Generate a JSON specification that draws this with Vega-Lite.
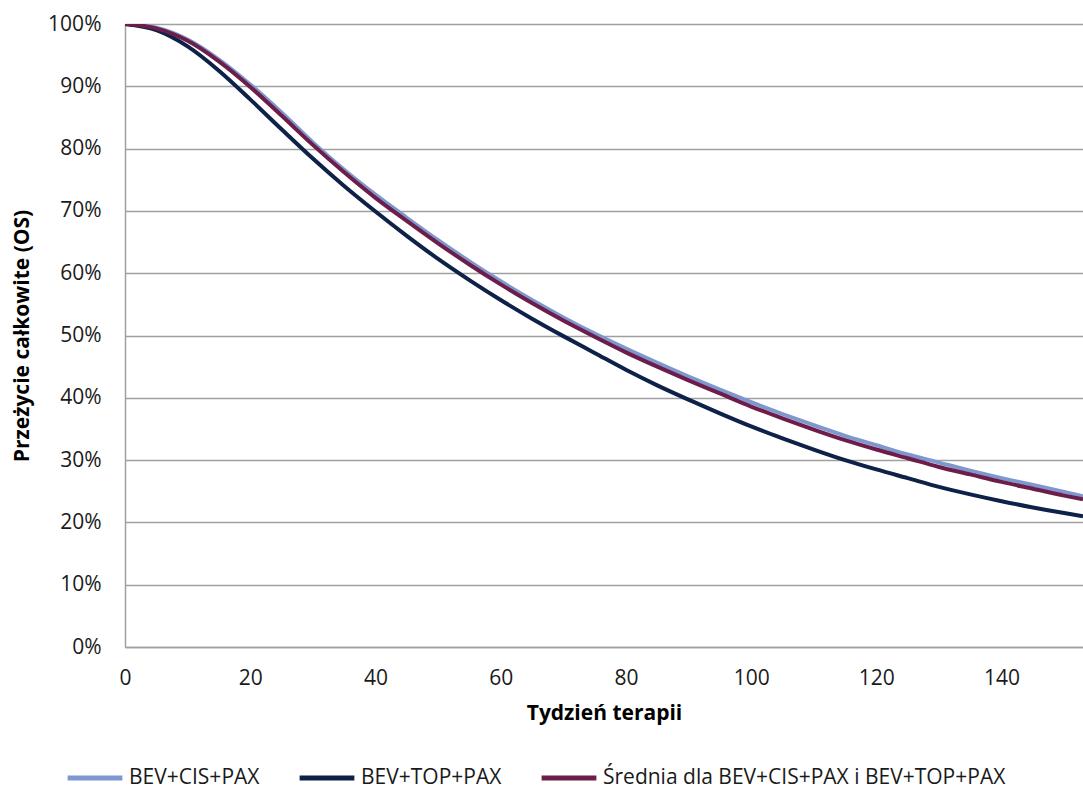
{
  "$schema": "https://vega.github.io/schema/vega-lite/v6.json",
  "width": 958,
  "height": 623,
  "autosize": {"type": "none"},
  "padding": {"left": 125, "top": 24, "right": 0, "bottom": 143},
  "background": "white",
  "config": {
    "view": {"stroke": null},
    "font": "Open Sans"
  },
  "datasets": {
    "curves": [
      {"t": 0, "BEV+CIS+PAX": 100, "BEV+TOP+PAX": 100, "Sr": 100},
      {"t": 5, "BEV+CIS+PAX": 99.4, "BEV+TOP+PAX": 99.0, "Sr": 99.3},
      {"t": 10, "BEV+CIS+PAX": 97.5, "BEV+TOP+PAX": 96.4, "Sr": 97.3},
      {"t": 15, "BEV+CIS+PAX": 94.3, "BEV+TOP+PAX": 92.5, "Sr": 94.0},
      {"t": 20, "BEV+CIS+PAX": 90.3, "BEV+TOP+PAX": 87.9, "Sr": 89.9},
      {"t": 25, "BEV+CIS+PAX": 85.8, "BEV+TOP+PAX": 83.1, "Sr": 85.3},
      {"t": 30, "BEV+CIS+PAX": 81.0, "BEV+TOP+PAX": 78.4, "Sr": 80.6},
      {"t": 35, "BEV+CIS+PAX": 76.6, "BEV+TOP+PAX": 74.0, "Sr": 76.2},
      {"t": 40, "BEV+CIS+PAX": 72.6, "BEV+TOP+PAX": 69.9, "Sr": 72.1},
      {"t": 45, "BEV+CIS+PAX": 68.9, "BEV+TOP+PAX": 66.0, "Sr": 68.4},
      {"t": 50, "BEV+CIS+PAX": 65.3, "BEV+TOP+PAX": 62.3, "Sr": 64.8},
      {"t": 55, "BEV+CIS+PAX": 61.9, "BEV+TOP+PAX": 58.9, "Sr": 61.4},
      {"t": 60, "BEV+CIS+PAX": 58.7, "BEV+TOP+PAX": 55.7, "Sr": 58.2},
      {"t": 65, "BEV+CIS+PAX": 55.7, "BEV+TOP+PAX": 52.7, "Sr": 55.2},
      {"t": 70, "BEV+CIS+PAX": 52.9, "BEV+TOP+PAX": 49.9, "Sr": 52.4},
      {"t": 75, "BEV+CIS+PAX": 50.3, "BEV+TOP+PAX": 47.2, "Sr": 49.8},
      {"t": 80, "BEV+CIS+PAX": 47.9, "BEV+TOP+PAX": 44.5, "Sr": 47.3},
      {"t": 85, "BEV+CIS+PAX": 45.6, "BEV+TOP+PAX": 42.0, "Sr": 45.0},
      {"t": 90, "BEV+CIS+PAX": 43.4, "BEV+TOP+PAX": 39.7, "Sr": 42.8},
      {"t": 95, "BEV+CIS+PAX": 41.3, "BEV+TOP+PAX": 37.5, "Sr": 40.7},
      {"t": 100, "BEV+CIS+PAX": 39.3, "BEV+TOP+PAX": 35.4, "Sr": 38.6},
      {"t": 105, "BEV+CIS+PAX": 37.4, "BEV+TOP+PAX": 33.5, "Sr": 36.7},
      {"t": 110, "BEV+CIS+PAX": 35.6, "BEV+TOP+PAX": 31.7, "Sr": 34.9},
      {"t": 115, "BEV+CIS+PAX": 33.9, "BEV+TOP+PAX": 30.0, "Sr": 33.2},
      {"t": 120, "BEV+CIS+PAX": 32.4, "BEV+TOP+PAX": 28.5, "Sr": 31.7},
      {"t": 125, "BEV+CIS+PAX": 30.9, "BEV+TOP+PAX": 27.1, "Sr": 30.3},
      {"t": 130, "BEV+CIS+PAX": 29.6, "BEV+TOP+PAX": 25.7, "Sr": 28.9},
      {"t": 135, "BEV+CIS+PAX": 28.3, "BEV+TOP+PAX": 24.5, "Sr": 27.7},
      {"t": 140, "BEV+CIS+PAX": 27.1, "BEV+TOP+PAX": 23.4, "Sr": 26.5},
      {"t": 145, "BEV+CIS+PAX": 26.0, "BEV+TOP+PAX": 22.4, "Sr": 25.4},
      {"t": 150, "BEV+CIS+PAX": 24.9, "BEV+TOP+PAX": 21.5, "Sr": 24.3},
      {"t": 153, "BEV+CIS+PAX": 24.2, "BEV+TOP+PAX": 21.0, "Sr": 23.7}
    ]
  },
  "data": {"name": "curves"},
  "transform": [
    {"fold": ["BEV+CIS+PAX", "BEV+TOP+PAX", "Sr"], "as": ["key", "pct"]},
    {"lookup": "key", "from": {"data": {"values": [
      {"key": "BEV+CIS+PAX", "series": "BEV+CIS+PAX"},
      {"key": "BEV+TOP+PAX", "series": "BEV+TOP+PAX"},
      {"key": "Sr", "series": "Średnia dla BEV+CIS+PAX i BEV+TOP+PAX"}
    ]}, "key": "key", "fields": ["series"]}}
  ],
  "mark": {"type": "line", "strokeWidth": 4, "interpolate": "monotone", "clip": true},
  "encoding": {
    "x": {
      "field": "t", "type": "quantitative",
      "scale": {"domain": [0, 153], "nice": false, "zero": false},
      "axis": {
        "values": [0, 20, 40, 60, 80, 100, 120, 140],
        "grid": false, "ticks": false, "tickSize": 0,
        "domainColor": "#a0a0a0", "domainWidth": 1.5,
        "labelFont": "Open Sans", "labelFontSize": 21, "labelColor": "#1a1a1a",
        "labelPadding": 20, "labelFlush": false,
        "title": "Tydzień terapii", "titleFont": "Open Sans", "titleFontSize": 21,
        "titleFontWeight": "bold", "titleColor": "#000000", "titlePadding": 14
      }
    },
    "y": {
      "field": "pct", "type": "quantitative",
      "scale": {"domain": [0, 100], "nice": false},
      "axis": {
        "values": [0, 10, 20, 30, 40, 50, 60, 70, 80, 90, 100],
        "labelExpr": "datum.value + '%'",
        "grid": true, "gridColor": "#a0a0a0", "gridWidth": 1.5,
        "ticks": false, "tickSize": 0,
        "domainColor": "#a0a0a0", "domainWidth": 1.5,
        "labelFont": "Open Sans", "labelFontSize": 21, "labelColor": "#1a1a1a",
        "labelPadding": 24,
        "title": "Przeżycie całkowite (OS)", "titleFont": "Open Sans", "titleFontSize": 21,
        "titleFontWeight": "bold", "titleColor": "#000000", "titlePadding": 15
      }
    },
    "color": {
      "field": "series", "type": "nominal",
      "scale": {
        "domain": ["BEV+CIS+PAX", "BEV+TOP+PAX", "Średnia dla BEV+CIS+PAX i BEV+TOP+PAX"],
        "range": ["#7f97cf", "#0d2149", "#6d1d49"]
      },
      "legend": {
        "title": null, "orient": "none", "direction": "horizontal",
        "legendX": -60, "legendY": 724,
        "symbolType": "stroke", "symbolSize": 3000, "symbolStrokeWidth": 5,
        "labelFont": "Open Sans", "labelFontSize": 21, "labelColor": "#1a1a1a",
        "labelOffset": 4, "columnPadding": 29, "labelLimit": 600
      }
    }
  }
}
